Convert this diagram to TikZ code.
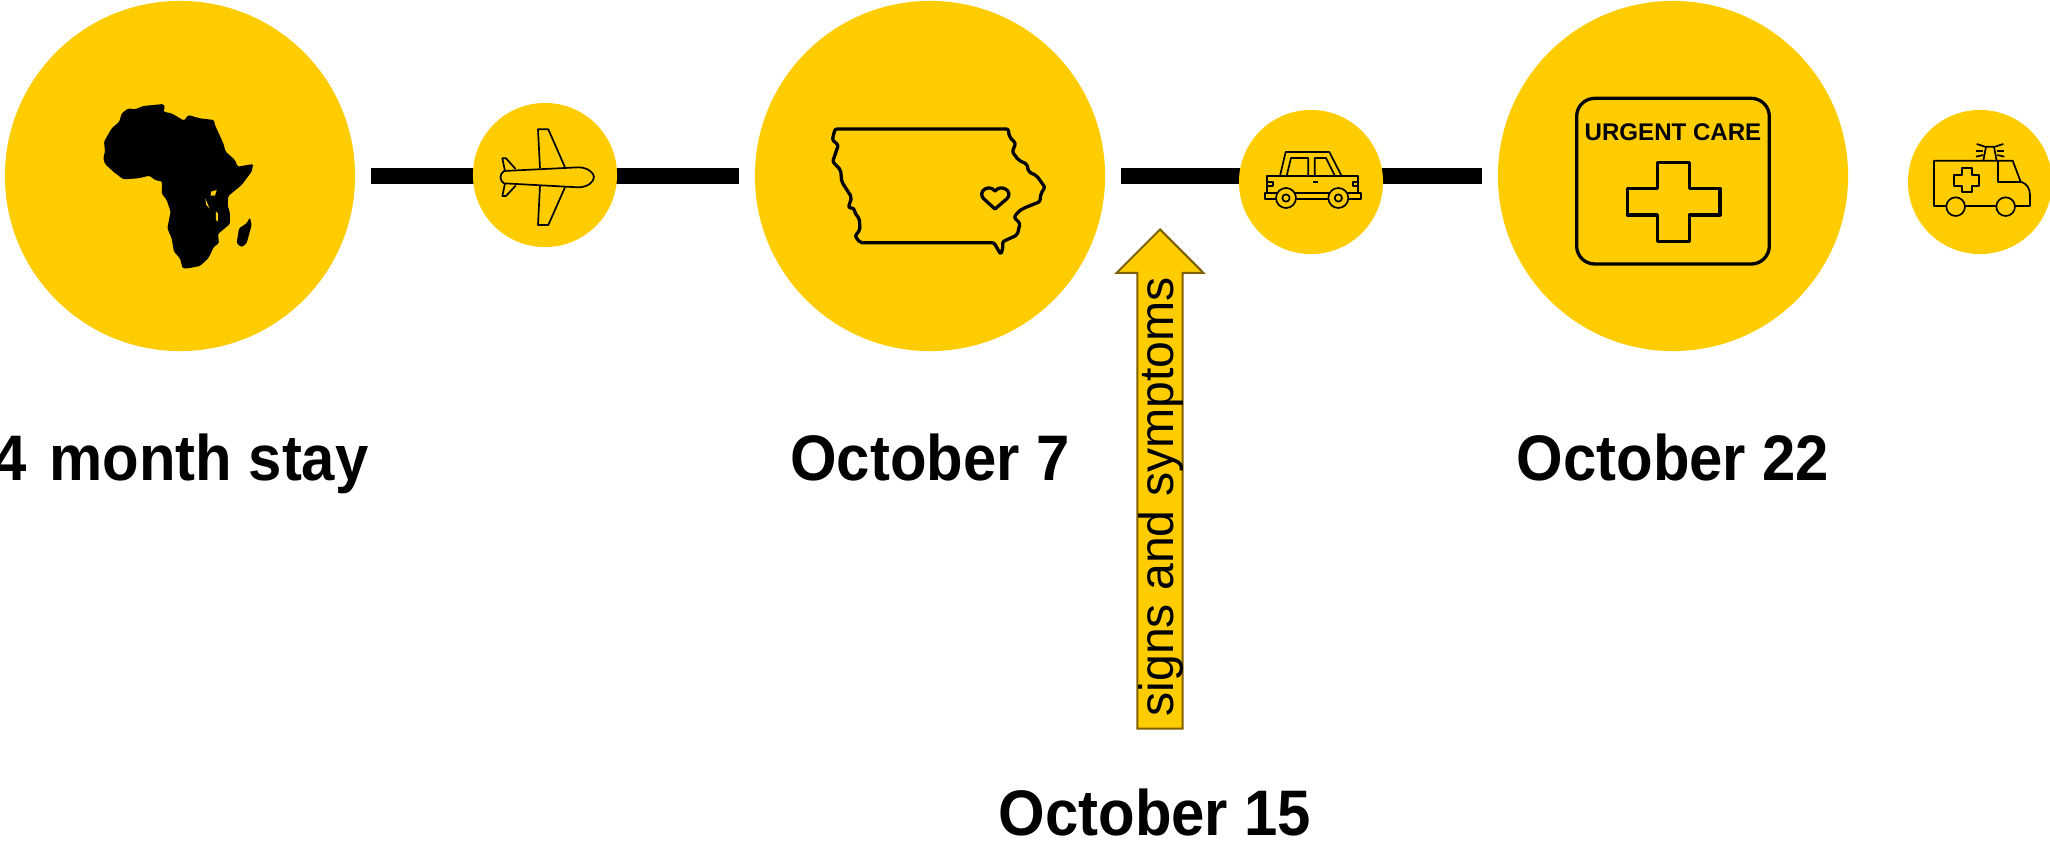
\documentclass[tikz,border=0pt]{standalone}
\usepackage{fontspec}
\usepackage{xcolor}
\usetikzlibrary{shapes.arrows}
\setmainfont{Liberation Sans}
\newfontfamily\datefont[FakeStretch=0.93]{Liberation Sans}
\definecolor{markgold}{HTML}{FFCC00}
\definecolor{arrowedge}{HTML}{7F6000}

\begin{document}
\begin{tikzpicture}[
    x=0.01cm, y=-0.01cm,
    bigdot/.style={circle, fill=markgold, minimum size=3.5cm, inner sep=0pt},
    smalldot/.style={circle, fill=markgold, minimum size=1.44cm, inner sep=0pt},
    datelabel/.style={anchor=base, inner sep=0pt, text depth=0pt, font=\datefont\bfseries\fontsize{18.3}{22}\selectfont},
    bar/.style={line width=0.165cm, shorten <=0.15cm, shorten >=0.15cm},
    thinicon/.style={line width=0.017cm, line join=round},
    boldicon/.style={line width=0.033cm, line join=round},
    uparrow/.style={single arrow, draw=arrowedge, fill=markgold, line width=0.02cm, rotate=90,
        minimum height=4.99cm, single arrow head extend=0.21cm, inner xsep=0pt, inner ysep=0pt,
        text height=0.35cm, text depth=0.08cm, font=\fontsize{13.7}{16}\selectfont},
]
\useasboundingbox (0,0) rectangle (2050,842);

\node[bigdot] (stay) at (180,176) {};
\node[bigdot] (iowa) at (930,176) {};
\node[bigdot] (clinic) at (1673,176) {};

\draw[bar] (stay) -- (iowa);
\draw[bar] (iowa) -- (clinic);

\node[smalldot] (flight) at (545,175) {};
\node[smalldot] (car) at (1311,182) {};
\node[smalldot] (ambulance) at (1980,182) {};

\node[datelabel] (staylabel) at (181,480) {4\hspace{1.7pt} month stay};
\node[datelabel] (iowalabel) at (930,480) {October 7};
\node[datelabel] (cliniclabel) at (1673,480) {October 22};
\node[datelabel] (carlabel) at (1155,835) {October 15};

\node[uparrow, anchor=tip] (symptoms) at (1160,228) {signs and symptoms\hspace*{0.13cm}};

% africa
\begin{scope}[shift={(60,80)}, scale=0.3333]
\fill[black, rounded corners=0.4pt] (205,85) -- (225,88) -- (250,78) -- (310,72) -- (315,80) -- (310,95) -- (335,100) -- (372,122)
    -- (385,105) -- (420,115) -- (462,120) -- (465,135) -- (490,190) -- (497,215) -- (525,240) -- (533,260) -- (580,252)
    -- (575,275) -- (545,315) -- (505,348) -- (503,375) -- (510,400) -- (510,432) -- (474,462) -- (477,490) -- (462,500)
    -- (445,535) -- (420,558) -- (385,565) -- (368,565) -- (360,535) -- (342,515) -- (335,475) -- (322,445) -- (332,395)
    -- (320,360) -- (305,340) -- (307,305) -- (285,300) -- (268,287) -- (235,295) -- (190,298) -- (160,275) -- (135,252)
    -- (130,235) -- (135,215) -- (132,185) -- (155,145) -- (178,125) -- (185,100) -- cycle;
\fill[black, rounded corners=0.4pt] (570,412) -- (575,435) -- (560,490) -- (545,502) -- (530,490) -- (537,445) -- (560,430) -- cycle;
\fill[markgold] (453,335) -- (470,330) -- (465,347) -- (452,347) -- cycle;
\fill[markgold] (468,395) -- (474,400) -- (474,425) -- (468,420) -- cycle;
\fill[markgold] (436,355) -- (449,386) -- (439,375) -- cycle;
\end{scope}

% plane
\begin{scope}[shift={(460,90)}, scale=0.3333]
\draw[thinicon] (132,243) -- (355,232) .. controls (382,232) and (402,248) .. (402,261) .. controls (402,276) and (382,292) .. (355,292)
    -- (132,280) .. controls (118,272) and (118,252) .. (132,243) -- cycle;
\draw[thinicon] (240,235) -- (234,118) -- (265,118) -- (315,232);
\draw[thinicon] (240,287) -- (234,405) -- (265,405) -- (315,292);
\draw[thinicon] (135,243) -- (127,205) -- (138,205) -- (167,237);
\draw[thinicon] (135,280) -- (127,318) -- (138,318) -- (167,287);
\end{scope}

% iowa outline
\begin{scope}[shift={(810,110)}, scale=0.3333]
\draw[boldicon, rounded corners=0.6pt] (75,57) -- (595,57) -- (598,80) -- (617,100) -- (607,125) -- (625,150) -- (652,163) -- (655,185)
    -- (680,197) -- (705,232) -- (692,252) -- (690,275) -- (640,295) -- (625,305) -- (612,322) -- (630,340) -- (622,375)
    -- (578,395) -- (578,420) -- (572,433) -- (552,398) -- (150,398) -- (135,378) -- (150,360) -- (148,325) -- (135,310)
    -- (132,295) -- (115,293) -- (125,262) -- (95,215) -- (92,180) -- (68,155) -- (85,105) -- (67,90) -- cycle;
\draw[boldicon] (555,297) -- (520,265) .. controls (503,245) and (535,220) .. (555,243)
    .. controls (575,220) and (610,245) .. (592,265) -- cycle;
\end{scope}

% car
\begin{scope}[shift={(1240,130)}, scale=0.3333]
\draw[thinicon] (120,138) -- (137,66) -- (268,66) -- (305,138);
\draw[thinicon] (140,138) -- (153,84) -- (205,84) -- (205,138);
\draw[thinicon] (224,138) -- (224,84) -- (258,84) -- (285,138);
\draw[thinicon] (80,138) rectangle (355,188);
\draw[thinicon] (75,188) rectangle (362,207);
\draw[thinicon] (80,155) rectangle (98,168);
\draw[thinicon] (338,155) rectangle (355,168);
\draw[thinicon] (218,155) -- (235,155);
\foreach \wx in {138,295} {
    \draw[thinicon, fill=markgold] (\wx,204) circle (30);
    \draw[thinicon] (\wx,204) circle (11);
}
\end{scope}

% urgent care sign
\begin{scope}[shift={(1560,85)}, scale=0.3333]
\draw[boldicon, rounded corners=0.18cm] (50,40) rectangle (628,537);
\node[font=\bfseries\fontsize{6.85}{8}\selectfont] (signtext) at (339,143) {URGENT CARE};
\draw[boldicon] (292,232) -- (388,232) -- (388,310) -- (480,310) -- (480,390) -- (388,390) -- (388,470) -- (292,470)
    -- (292,390) -- (202,390) -- (202,310) -- (292,310) -- cycle;
\end{scope}

% ambulance
\begin{scope}[shift={(1900,120)}, scale=0.3333]
\draw[thinicon] (140,258) -- (102,258) -- (102,122) -- (338,122) -- (362,185) .. controls (380,190) and (390,205) .. (390,225)
    -- (390,258) -- (345,258);
\draw[thinicon] (195,258) -- (290,258);
\draw[thinicon] (293,122) -- (293,185) -- (362,185);
\draw[thinicon] (167,260) circle (28);
\draw[thinicon] (317,260) circle (28);
\draw[thinicon] (250,122) -- (258,80) -- (282,80) -- (290,122);
\foreach \ax/\ay/\bx/\by in {230/72/255/80, 228/93/250/93, 228/110/250/105, 310/72/285/80, 313/93/290/93, 313/110/292/105} {
    \draw[thinicon] (\ax,\ay) -- (\bx,\by);
}
\draw[thinicon] (185,145) -- (215,145) -- (215,165) -- (238,165) -- (238,197) -- (215,197) -- (215,217) -- (185,217)
    -- (185,197) -- (163,197) -- (163,165) -- (185,165) -- cycle;
\end{scope}

\end{tikzpicture}
\end{document}
